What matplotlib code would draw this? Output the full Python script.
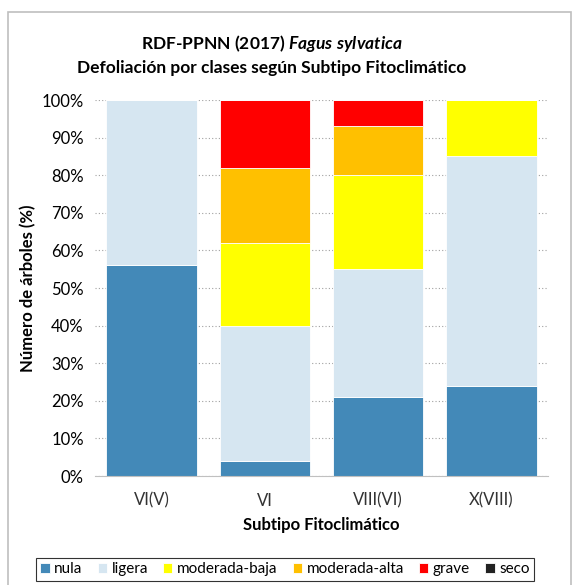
import numpy as np
import matplotlib.pyplot as plt
from matplotlib.patches import Rectangle

categories = ['VI(V)', 'VI', 'VIII(VI)', 'X(VIII)']
clases = ['nula', 'ligera', 'moderada-baja', 'moderada-alta', 'grave', 'seco']
nula = [56, 4, 21, 24]
ligera = [44, 36, 34, 61]
moderada_baja = [0, 22, 25, 15]
moderada_alta = [0, 20, 13, 0]
grave = [0, 18, 7, 0]
seco = [0, 0, 0, 0]
colores = ['#4389b8', '#d6e6f1', '#ffff00', '#ffc000', '#ff0000', '#222222']

plt.rcParams['font.family'] = ['Lato', 'DejaVu Sans']
plt.rcParams['mathtext.fontset'] = 'custom'
plt.rcParams['mathtext.it'] = 'Lato:italic:bold'

fig = plt.figure(figsize=(5.74, 5.85), dpi=100)
fig.patches.append(Rectangle((0.014, -0.01), 0.98, 0.99, transform=fig.transFigure,
                             fill=False, edgecolor='#bfbfbf', lw=1.2))
ax = fig.add_axes([0.1655, 0.1863, 0.789, 0.6427])

x = np.arange(len(categories))
series = [nula, ligera, moderada_baja, moderada_alta, grave, seco]
bottom = np.zeros(len(categories))
for nombre, vals, c in zip(clases, series, colores):
    ax.bar(x, vals, 0.8, bottom=bottom, color=c, label=nombre, zorder=2,
           edgecolor='white', linewidth=0.6)
    bottom += np.array(vals)

ax.set_xlim(-0.5, 3.5)
ax.set_ylim(0, 100)
ax.set_yticks(np.arange(0, 101, 10))
ax.set_yticklabels([f'{v}%' for v in range(0, 101, 10)], fontsize=12)
ax.set_xticks(x)
ax.set_xticklabels(categories, fontsize=12, color='#333333')
ax.tick_params(length=0, pad=8)
ax.tick_params(axis='x', pad=12)
ax.grid(axis='y', linestyle=(0, (1, 2)), color='#a0a0a0', lw=0.8, zorder=0)
for s in ['top', 'right', 'left']:
    ax.spines[s].set_visible(False)
ax.spines['bottom'].set_color('#c0c0c0')

ax.set_ylabel('Número de árboles (%)', fontsize=12, fontweight='bold', labelpad=4)
ax.set_xlabel('Subtipo Fitoclimático', fontsize=12, fontweight='bold', labelpad=6)

fig.text(0.474, 0.925, r'RDF-PPNN (2017) $Fagus\ sylvatica$', ha='center', va='center',
         fontsize=12.5, fontweight='bold')
fig.text(0.474, 0.884, 'Defoliación por clases según Subtipo Fitoclimático', ha='center',
         va='center', fontsize=12.5, fontweight='bold')

leg = fig.legend(loc='center', bbox_to_anchor=(0.4965, 0.0265), ncol=6, fontsize=11,
                 frameon=True, fancybox=False, edgecolor='black', handlelength=0.6,
                 handleheight=0.6, handletextpad=0.3, columnspacing=1.0,
                 borderpad=0.3)
leg.get_frame().set_linewidth(0.8)

fig.savefig('out.png', dpi=100)
